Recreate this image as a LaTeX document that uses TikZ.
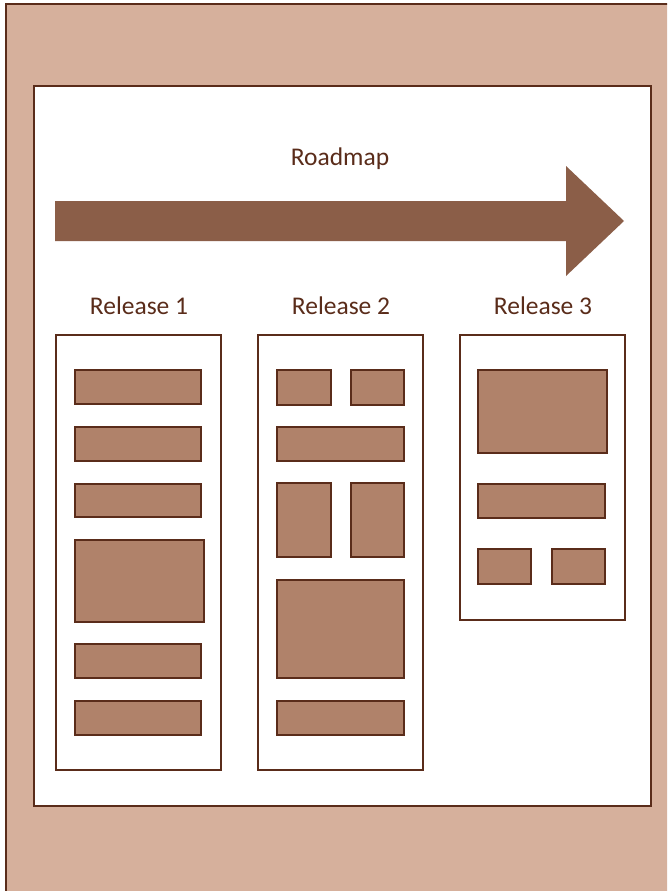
\documentclass[tikz,border=0pt]{standalone}
\usepackage{fontspec}
\setmainfont{Carlito}
\definecolor{framefill}{HTML}{D6B09C}
\definecolor{edge}{HTML}{5A2C1A}
\definecolor{arrowfill}{HTML}{8B5E48}
\definecolor{blockfill}{HTML}{B0826A}
\begin{document}
\begin{tikzpicture}[x=1pt,y=-1pt,
  panel/.style={draw=edge,line width=2.6pt,fill=white},
  column/.style={draw=edge,line width=2pt,fill=white},
  block/.style={draw=edge,line width=2.6pt,fill=blockfill},
  label/.style={text=edge,font=\fontsize{25.5}{30}\selectfont,anchor=base,inner sep=0pt}]
\useasboundingbox (0,0) rectangle (667,891);
\begin{scope}
\clip (0,0) rectangle (667,891);
% outer frame and white panel
\draw[draw=edge,line width=2.6pt,fill=framefill] (6,4) rectangle (700,920);
\draw[panel] (34,86) rectangle (651,806);
\end{scope}
% roadmap arrow
\fill[arrowfill] (55,201) -- (566,201) -- (566,166) -- (624,221) -- (566,276) -- (566,241) -- (55,241) -- cycle;
\node[label] (roadmap) at (340,165) {Roadmap};
% release labels
\node[label] (r1) at (139,314) {Release 1};
\node[label] (r2) at (341,314) {Release 2};
\node[label] (r3) at (543,314) {Release 3};
% release 1
\draw[column] (56,335) rectangle (221,770);
\draw[block] (75,370) rectangle (201,404);
\draw[block] (75,427) rectangle (201,461);
\draw[block] (75,484) rectangle (201,517);
\draw[block] (75,540) rectangle (204,622);
\draw[block] (75,644) rectangle (201,678);
\draw[block] (75,701) rectangle (201,735);
% release 2
\draw[column] (258,335) rectangle (423,770);
\draw[block] (277,370) rectangle (331,405);
\draw[block] (351,370) rectangle (404,405);
\draw[block] (277,427) rectangle (404,461);
\draw[block] (277,483) rectangle (331,557);
\draw[block] (351,483) rectangle (404,557);
\draw[block] (277,580) rectangle (404,678);
\draw[block] (277,701) rectangle (404,735);
% release 3
\draw[column] (460,335) rectangle (625,620);
\draw[block] (478,370) rectangle (607,453);
\draw[block] (478,484) rectangle (605,518);
\draw[block] (478,549) rectangle (531,584);
\draw[block] (552,549) rectangle (605,584);
\end{tikzpicture}
\end{document}
